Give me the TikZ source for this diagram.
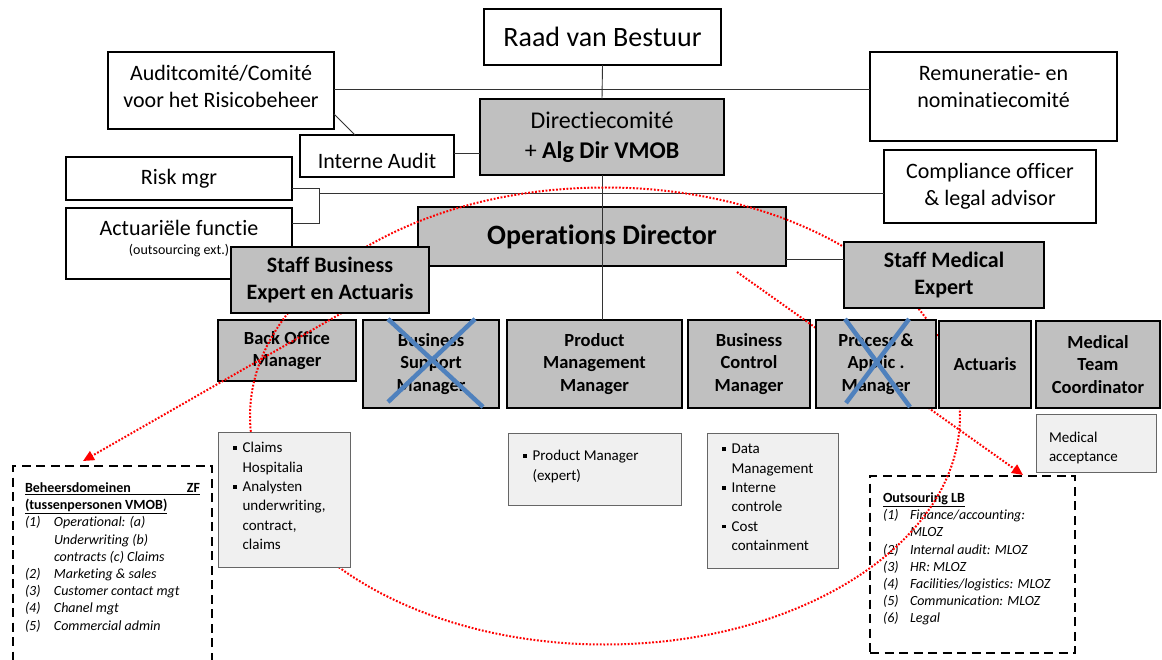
\documentclass[tikz,border=0pt]{standalone}
\usepackage{fontspec}
\setmainfont{Carlito}[Ligatures=NoCommon]
\usetikzlibrary{arrows.meta,calc}
\definecolor{boxgray}{HTML}{C0C0C0}
\definecolor{subfill}{HTML}{F0F0F0}
\definecolor{subline}{HTML}{666666}
\definecolor{crossblue}{RGB}{79,129,189}
\definecolor{dotred}{HTML}{FF0000}
\definecolor{connline}{HTML}{333333}
\newcommand\fsz[2]{\fontsize{#1}{#2}\selectfont}
\newcommand\bul{\rule[3pt]{3.6pt}{3.6pt}}
\begin{document}
\begin{tikzpicture}[x=1pt,y=-1pt,
  every node/.style={inner sep=0pt, outer sep=0pt},
  sz/.style 2 args={minimum width=#1pt, minimum height=#2pt},
  wbox/.style={draw=black, line width=1.8pt, fill=white, anchor=north west},
  gbox/.style={wbox, fill=boxgray},
  subbox/.style={draw=subline, line width=0.9pt, fill=subfill, anchor=north west},
  dbox/.style={draw=black, line width=2.3pt, dash pattern=on 9pt off 5.5pt, anchor=north west},
  conn/.style={draw=connline, line width=0.9pt},
  reddot/.style={draw=dotred, line width=2pt, dash pattern=on 1.8pt off 1.7pt},
  xline/.style={draw=crossblue, line width=4.5pt},
  t22/.style={font=\fsz{22}{27}, align=center},
  b22/.style={font=\fsz{22}{27}\bfseries, align=center},
  mgr/.style={font=\fsz{18.5}{22.5}\bfseries, align=center},
  subtxt/.style={anchor=north west, font=\fsz{15}{19.4}},
  dtxt/.style={anchor=north west, font=\fsz{14}{17.2}\itshape}
]
\fill[white] (0,0) rectangle (1162,660);
\clip (0,0) rectangle (1162,660);

% ---------- top white boxes ----------
\node[wbox, sz={237}{56}, font=\fsz{28}{34}] (raad) at (484,9) {Raad van Bestuur};
\node[wbox, sz={226}{77}] (audit) at (108,52) {};
\node[wbox, sz={247}{89}] (rem) at (870,52) {};
\node[wbox, sz={154}{42}] (interne) at (300,135) {};
\node[wbox, sz={226}{43}, t22] (risk) at (66,157) {Risk mgr};
\node[wbox, sz={226}{71}] (actf) at (66,208) {};
\node[wbox, sz={212}{73}, t22] (comp) at (884,150) {Compliance officer\\\& legal advisor};

% ---------- thin connectors ----------
\coordinate (a1) at ($(audit.east)+(0,-1.5)$);
\draw[conn] (a1) -- (a1 -| rem.west);
\draw[conn] ($(audit.south east)+(0,-15)$) -- ($(interne.north west)+(55,0)$);
\coordinate (i1) at ($(interne.east)+(0,-3)$);
\coordinate (brk) at (319,193);
\coordinate (r1) at ($(risk.east)+(0,9.5)$);
\coordinate (f1) at ($(actf.east)+(0,-20.5)$);
\draw[conn] (r1) -| (f1 -| brk) -- (f1);
\draw[conn] (brk) -- (brk -| comp.west);

\node[t22] (auditt) at (221,86.5) {Auditcomité/Comité\\voor het Risicobeheer};
\node[t22] (remt) at (993.5,86.5) {Remuneratie- en\\nominatiecomité};
\node[t22] (internet) at (377,161) {Interne Audit};
\node[t22] (actft) at (179,228) {Actuariële functie};
\node[font=\fsz{14}{17}] (actfs) at (179,251) {(outsourcing ext.)};

% ---------- directie / operations ----------
\node[gbox, sz={244}{76}, font=\fsz{24}{30}, align=center] (dir) at (480,99) {Directiecomité\\+ \textbf{Alg Dir VMOB}};
\draw[conn] (i1) -- (i1 -| dir.west);
\node[gbox, sz={368}{59}, font=\fsz{28}{34}\bfseries] (ops) at (418,207) {Operations Director};

% ---------- managers ----------
\node[gbox, sz={138}{61}, mgr] (bo) at (218,320) {Back Office\\Manager};
\node[gbox, sz={136}{88}, mgr] (bsm) at (363,320) {Business\\Support\\Manager};
\node[gbox, sz={175}{88}, mgr] (pm) at (507,320) {Product\\Management\\Manager};
\node[gbox, sz={122}{88}, mgr] (bc) at (688,320) {Business\\Control\\Manager};
\node[gbox, sz={124}{87}, mgr] (mtc) at (1036,321) {Medical\\Team\\Coordinator};

\draw[conn] (raad.south) -- (dir.north);
\draw[conn] (dir.south) -- (dir.south |- pm.north);

% ---------- sub boxes ----------
\node[subbox, sz={173}{72}] (pmsub) at (508,433) {};
\node[subtxt] (pmsubt) at (523,447.2) {\begin{tabular}{@{}l@{\hspace{6pt}}l@{}}\bul&Product Manager\\&(expert)\end{tabular}};
\node[subbox, sz={131}{135}] (data) at (707,433) {};
\node[subtxt] (datat) at (722,440.2) {\begin{tabular}{@{}l@{\hspace{6pt}}l@{}}\bul&Data\\&Management\\\bul&Interne\\&controle\\\bul&Cost\\&containment\end{tabular}};
\node[subbox, sz={120}{58}] (medacc) at (1036,414) {};
\node[subtxt] (medacct) at (1049,428.5) {\begin{tabular}{@{}l@{}}Medical\\acceptance\end{tabular}};

% ---------- dashed boxes ----------
\node[dbox, sz={199}{214}] (ldash) at (13,466) {};
\node[dtxt] (ldasht) at (25,480.5) {\begin{tabular}{@{}p{29pt}@{}l@{}}
\multicolumn{2}{@{}l@{}}{\upshape\bfseries\underline{\makebox[175pt]{Beheersdomeinen\hfill ZF}}}\\
\multicolumn{2}{@{}l@{}}{\upshape\bfseries\underline{(tussenpersonen VMOB)}}\\
(1)&Operational: (a)\\
&Underwriting (b)\\
&contracts (c) Claims\\
(2)&Marketing \& sales\\
(3)&Customer contact mgt\\
(4)&Chanel mgt\\
(5)&Commercial admin
\end{tabular}};
\node[dbox, sz={205}{177}] (rdash) at (870,476) {};
\node[dtxt] (rdasht) at (883,490.5) {\begin{tabular}{@{}p{27pt}@{}l@{}}
\multicolumn{2}{@{}l@{}}{\upshape\bfseries\underline{Outsouring LB}}\\
(1)&Finance/accounting:\\
&MLOZ\\
(2)&Internal audit: MLOZ\\
(3)&HR: MLOZ\\
(4)&Facilities/logistics: MLOZ\\
(5)&Communication: MLOZ\\
(6)&Legal
\end{tabular}};

% ---------- red dotted ----------
\draw[reddot] (605,416) ellipse [x radius=355pt, y radius=228.5pt];
\coordinate (lstart) at (360,302.6);
\coordinate (ltip) at (83,461);
\coordinate (rstart) at (737,272);
\coordinate (rtip) at (1023,475);
\draw[reddot, -{Triangle[length=11pt,width=10pt]}] (lstart) -- (ltip);
\draw[reddot, -{Triangle[length=11pt,width=10pt]}] (rstart) -- (rtip);

% ---------- boxes on top of red ----------
\node[gbox, sz={198}{66}, b22] (sbe) at (231,247) {Staff Business\\Expert en Actuaris};
\node[gbox, sz={200}{66}, b22] (smed) at (844,242) {Staff Medical\\Expert};
\coordinate (o1) at ($(ops.east)+(0,22.5)$);
\draw[conn] (o1) -- (o1 -| smed.west);
\node[gbox, sz={120}{88}, mgr] (pa) at (816,320) {Process \&\\Applic .\\Manager};
\node[gbox, sz={92}{87}, mgr] (actu) at (939,321) {Actuaris};
\node[subbox, sz={132}{135}] (claims) at (218,432) {};
\node[subtxt] (claimst) at (233,439.2) {\begin{tabular}{@{}l@{\hspace{6pt}}l@{}}\bul&Claims\\&Hospitalia\\\bul&Analysten\\&underwriting,\\&contract,\\&claims\end{tabular}};

% ---------- crosses ----------
\draw[xline] (388,319) -- (483,407);
\draw[xline] (475,319) -- (388,402);
\draw[xline] (845,319) -- (910,407);
\draw[xline] (909,319) -- (846,403);
\end{tikzpicture}
\end{document}
